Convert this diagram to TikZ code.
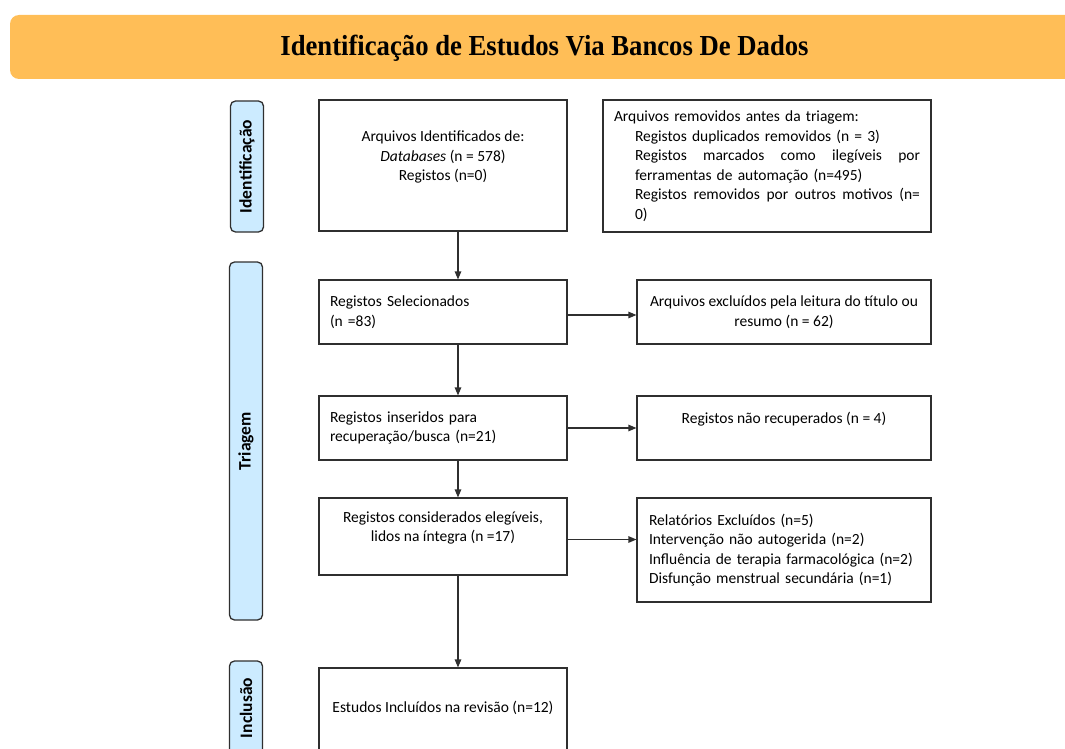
\documentclass[tikz,border=0pt]{standalone}
\usepackage{fontspec}
\setmainfont{Carlito}
\newfontfamily\titlefont[FakeStretch=0.92]{Liberation Serif}
\usetikzlibrary{arrows.meta}

\definecolor{bandeira}{HTML}{FFBE57}
\definecolor{fase}{HTML}{CCEBFF}
\definecolor{traco}{HTML}{2F2F2F}

\tikzset{
	caixa/.style={draw=traco, line width=1.1pt, fill=white, inner sep=0pt,
		minimum width=248pt, font=\fontsize{15.5}{19.5}\selectfont},
	faseinfo/.style={draw=traco, line width=1.3pt, fill=fase, rounded corners=5pt,
		minimum width=33pt, inner sep=0pt, font=\fontsize{17.5}{20}\selectfont\bfseries},
	seta/.style={draw=traco, line width=1.1pt, -{Triangle[length=8pt,width=6.5pt]}},
}
\newcommand{\recuo}{\hspace*{21pt}}
\newcommand{\linhacheia}[1]{\hbox to 285pt{#1}}

\begin{document}
\begin{tikzpicture}[x=1pt,y=-1pt]
	\clip (0,0) rectangle (1065,749);
	\coordinate (eixo) at (458,0);
% faixa do titulo
\path [fill=bandeira, rounded corners=9pt] (10,15) rectangle (1090,79);
	\node (titulo) at (544.5,48) {\titlefont\bfseries\fontsize{29}{32}\selectfont Identificação de Estudos Via Bancos De Dados};
	% fases
	\node[faseinfo, minimum height=131pt] (fId) at (247,166.5) {\rotatebox{90}{Identificação}};
	\node[faseinfo, minimum height=358pt] (fTr) at (246,441) {\rotatebox{90}{Triagem}};
	\node[faseinfo, minimum height=94pt] (fIn) at (246,708) {\rotatebox{90}{Inclusão}};
	% coluna principal
	\node[caixa, minimum height=131pt, align=center] (ident) at (443,165.5)
		{Arquivos Identificados de:\\ \textit{Databases} (n = 578)\\ Registos (n=0)\\ \mbox{}};
	\node[caixa, minimum height=64pt, text width=226pt, align=left] (sel) at (443,312)
		{Registos Selecionados\\ (n =83)};
	\node[caixa, minimum height=64pt, text width=226pt, align=left] (insr) at (443,428)
		{Registos inseridos para\\ recuperação/busca (n=21)};
	\node[caixa, minimum height=77pt, align=center] (eleg) at (443,536.5)
		{Registos considerados elegíveis,\\ lidos na íntegra (n =17)\\ \mbox{}};
	\node[caixa, minimum height=116pt, align=center] (incl) at (443,726)
		{Estudos Incluídos na revisão (n=12)\\ \mbox{}\\ \mbox{}};
	% coluna da direita
	\node[caixa, minimum width=328pt, minimum height=132pt, text width=306pt, align=left] (remov) at (767,166)
		{Arquivos removidos antes da triagem:\\
		\recuo Registos duplicados removidos (n = 3)\\
		\recuo\linhacheia{Registos\hfill marcados\hfill como\hfill ilegíveis\hfill por}\\
		\recuo ferramentas de automação (n=495)\\
		\recuo\linhacheia{Registos\hfill removidos\hfill por\hfill outros\hfill motivos\hfill (n=}\\
		\recuo 0)};
	\node[caixa, minimum width=294pt, minimum height=64pt, align=center] (excl) at (784,312)
		{Arquivos excluídos pela leitura do título ou\\ resumo (n = 62)};
	\node[caixa, minimum width=294pt, minimum height=64pt, align=center] (naorec) at (784,428)
		{Registos não recuperados (n = 4)\\ \mbox{}};
	\node[caixa, minimum width=294pt, minimum height=104pt, text width=270pt, align=left] (relat) at (784,550)
		{Relatórios Excluídos (n=5)\\ Intervenção não autogerida (n=2)\\ Influência de terapia farmacológica (n=2)\\ Disfunção menstrual secundária (n=1)};
	% setas
	\draw[seta] (ident.south -| eixo) -- (sel.north -| eixo);
	\draw[seta] (sel.south -| eixo) -- (insr.north -| eixo);
	\draw[seta] (insr.south -| eixo) -- (eleg.north -| eixo);
	\draw[seta] (eleg.south -| eixo) -- (incl.north -| eixo);
	\draw[seta] ([yshift=-3pt]sel.east) -- ([yshift=-3pt]sel.east -| excl.west);
	\draw[seta] (insr.east) -- (insr.east -| naorec.west);
	\draw[seta] ([yshift=-3pt]eleg.east) -- ([yshift=-3pt]eleg.east -| relat.west);
\end{tikzpicture}
\end{document}
